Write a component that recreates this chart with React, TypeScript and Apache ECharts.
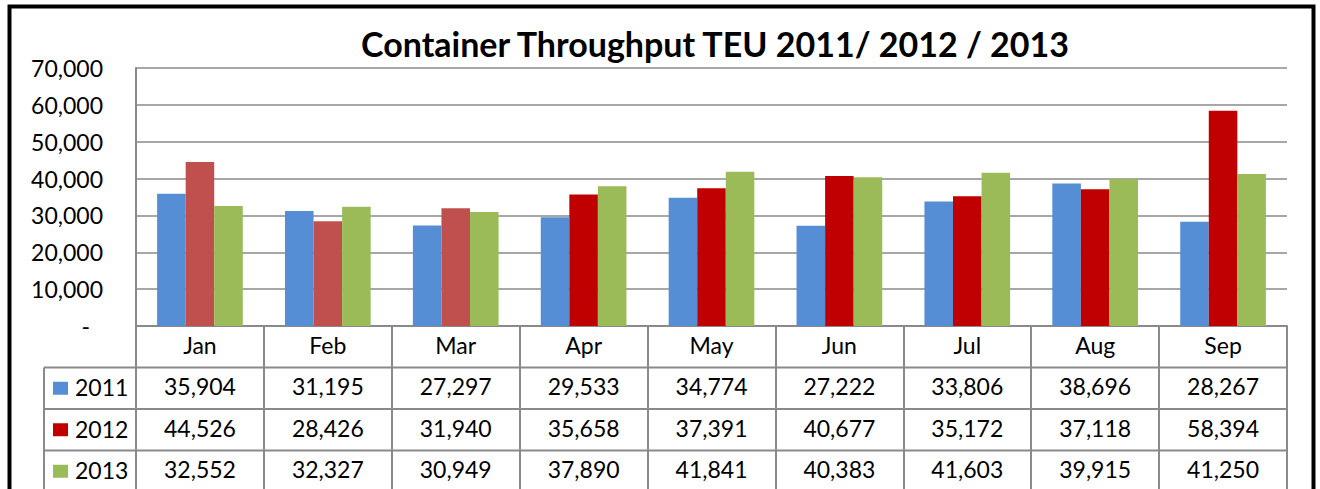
import React, { useEffect, useRef } from "react";
import * as echarts from "echarts";

const title = "Container Throughput TEU 2011/ 2012 / 2013";
const months = ["Jan", "Feb", "Mar", "Apr", "May", "Jun", "Jul", "Aug", "Sep"];
const seriesNames = ["2011", "2012", "2013"];
const values2011 = [35904, 31195, 27297, 29533, 34774, 27222, 33806, 38696, 28267];
const values2012 = [44526, 28426, 31940, 35658, 37391, 40677, 35172, 37118, 58394];
const values2013 = [32552, 32327, 30949, 37890, 41841, 40383, 41603, 39915, 41250];
const yMin = 0;
const yMax = 70000;
const yInterval = 10000;

const W = 1320;
const H = 489;
const GL = 136;
const GT = 68;
const GW = 1151;
const GH = 258;
const ROW = 41.5;
const TABLE_LEFT = 44;
const FONT = "Lato, 'Noto Sans', sans-serif";
const GRAY = "#8a8a8a";
const BLUE = "#558ED5";
const RED = "#C00000";
const RED_LIGHT = "#C0504D";
const GREEN = "#9BBB59";

const fmt = (n: number) => n.toLocaleString("en-US");

export default function App() {
  const ref = useRef<HTMLDivElement>(null);
  useEffect(() => {
    if (!ref.current) return;
    const chart = echarts.init(ref.current, null, { renderer: "svg" });
    const allSeries = [values2011, values2012, values2013];
    const colors = [BLUE, RED, GREEN];
    const axisY = GT + GH;
    const graphics: any[] = [
      {
        type: "rect",
        shape: { x: 9.5, y: 6.5, width: 1304, height: 700 },
        style: { fill: "none", stroke: "#000", lineWidth: 4 },
        z: 100,
      },
      {
        type: "text",
        x: 715,
        y: 43,
        style: {
          text: title,
          font: `bold 34px ${FONT}`,
          fill: "#000",
          align: "center",
          verticalAlign: "middle",
        },
      },
      {
        type: "line",
        shape: { x1: TABLE_LEFT, y1: axisY + ROW, x2: TABLE_LEFT, y2: H + 20 },
        style: { stroke: GRAY, lineWidth: 2 },
      },
    ];
    for (let k = 1; k <= 3; k++) {
      graphics.push({
        type: "line",
        shape: { x1: TABLE_LEFT, y1: axisY + ROW * k, x2: GL + GW, y2: axisY + ROW * k },
        style: { stroke: GRAY, lineWidth: 2 },
      });
    }
    seriesNames.forEach((name, i) => {
      const cy = axisY + ROW * (i + 1) + ROW / 2;
      graphics.push({
        type: "rect",
        shape: { x: 53, y: cy - 6.5, width: 15, height: 13 },
        style: { fill: colors[i] },
      });
      graphics.push({
        type: "text",
        x: 75,
        y: cy - 1,
        style: {
          text: name,
          font: `23px ${FONT}`,
          fill: "#000",
          align: "left",
          verticalAlign: "middle",
        },
      });
    });

    chart.setOption({
      animation: false,
      backgroundColor: "#fff",
      textStyle: { fontFamily: FONT },
      grid: { left: GL, top: GT, width: GW, height: GH, containLabel: false, outerBoundsMode: "none" },
      graphic: graphics,
      xAxis: {
        type: "category",
        data: months,
        axisLine: { show: true, lineStyle: { color: GRAY, width: 2 } },
        axisTick: {
          show: true,
          interval: 0,
          length: 180,
          lineStyle: { color: GRAY, width: 2 },
        },
        axisLabel: {
          interval: 0,
          margin: -2,
          fontSize: 23,
          lineHeight: ROW,
          color: "#000",
          fontFamily: FONT,
          formatter: (val: string, idx: number) =>
            [val, fmt(values2011[idx]), fmt(values2012[idx]), fmt(values2013[idx])].join("\n"),
        },
      },
      yAxis: {
        type: "value",
        min: yMin,
        max: yMax,
        interval: yInterval,
        axisLine: { show: true, lineStyle: { color: GRAY, width: 2 } },
        axisTick: { show: false },
        splitLine: { show: true, lineStyle: { color: GRAY, width: 1.5 } },
        axisLabel: {
          margin: 33,
          fontSize: 23,
          color: "#000",
          fontFamily: FONT,
          formatter: (v: number) => (v === 0 ? "{z|-}" : fmt(v)),
          rich: { z: { fontSize: 23, color: "#000", padding: [0, 13, 0, 0], fontFamily: FONT } },
        },
      },
      series: allSeries.map((data, i) => ({
        type: "bar",
        name: seriesNames[i],
        data,
        barGap: "0%",
        barCategoryGap: "33%",
        itemStyle: {
          color:
            i === 1
              ? (p: any) => (p.dataIndex < 3 ? RED_LIGHT : RED)
              : colors[i],
        },
      })),
    });
    return () => chart.dispose();
  }, []);
  return (
    <div
      ref={ref}
      style={{ position: "fixed", left: 0, top: 0, width: W, height: H, background: "#fff" }}
    />
  );
}
